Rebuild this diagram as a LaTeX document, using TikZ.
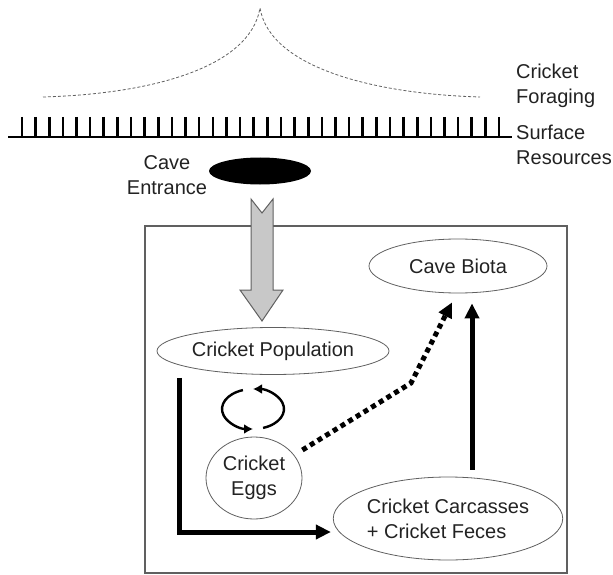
\documentclass[tikz,border=0pt]{standalone}
\usepackage{fontspec}
\setmainfont{Liberation Sans}
\usepackage{tikz}
\usetikzlibrary{arrows.meta, shapes.geometric}

\definecolor{inkGray}{RGB}{34,34,34}
\definecolor{lineGray}{RGB}{96,96,96}
\definecolor{fillGray}{RGB}{200,200,200}

\begin{document}
\begin{tikzpicture}[x=1pt,y=-1pt,
        every node/.style={text=inkGray,font=\fontsize{20}{25}\selectfont},
        oval/.style={ellipse,draw=lineGray,line width=0.8pt,inner sep=0pt},
        heavy/.style={line width=5pt,-{Triangle[length=15pt,width=14pt]}},
        dotty/.style={line width=5pt,dash pattern=on 5pt off 4pt,-{Triangle[length=15pt,width=14pt]}},
        cycle/.style={line width=2.4pt,-{Latex[length=9pt,width=10pt]}}]

        \useasboundingbox (0,0) rectangle (613,575);

        % surface, foraging curve
        \draw[lineGray,line width=0.8pt,dash pattern=on 3pt off 2pt] (43,97) .. controls (150,94) and (250,68) .. (260,8)
                .. controls (270,68) and (375,94) .. (480,97);
        \draw[line width=2.6pt] (8,137) -- (512,137);
        \foreach \i in {0,...,35}
          \draw[line width=2.6pt] (22+\i*13.63,117) -- (22+\i*13.63,137);

        \node [anchor=west,align=left,inner sep=0pt] at (516,85.5) (forageLbl) {Cricket\\Foraging};
        \node [anchor=west,align=left,inner sep=0pt] at (516,145) (surfaceLbl) {Surface\\Resources};

        \node [ellipse,fill=black,minimum width=102pt,minimum height=27pt] at (260,171) (caveEntrance) {};
        \node [align=center] at (167,175) (entranceLbl) {Cave\\Entrance};

        % the cave
        \draw[lineGray,line width=1.3pt] (145,226) rectangle (567,573);
        \draw[fill=fillGray,draw=lineGray,line width=1pt] (251,199) -- (262,213) -- (273,199) -- (273,290) -- (283,290)
                -- (262,321) -- (240,290) -- (251,290) -- cycle;

        \node [oval,minimum width=232pt,minimum height=47pt] at (273,351) (crickPop) {Cricket Population};
        \node [oval,minimum width=178pt,minimum height=54pt] at (458,266) (caveBiota) {Cave Biota};
        \node [oval,minimum width=96pt,minimum height=82pt,align=center] at (254,478) (crickEggs) {Cricket\\Eggs};
        \node [oval,minimum width=212pt,minimum height=83pt,align=left] at (448,518.5) (carcFeces) {Cricket Carcasses\\+ Cricket Feces};

        \coordinate (eggLoop) at (253,409);
        \coordinate (dotBend) at (411,383);

        \draw[cycle] (eggLoop) ++(71:31 and 20) arc[start angle=71,end angle=-90,x radius=31,y radius=20];
        \draw[cycle] (eggLoop) ++(251:31 and 20) arc[start angle=251,end angle=90,x radius=31,y radius=20];

        \draw[heavy,miter limit=10] ([xshift=-94pt,yshift=-3pt]crickPop.south) |- ([xshift=-2pt,yshift=-13.5pt]carcFeces.west);
        \draw[heavy,shorten <=7pt,shorten >=10pt] ([xshift=24pt]carcFeces.north) -- ([xshift=24pt]carcFeces.north |- caveBiota.south);
        \draw[dotty] ([yshift=28pt]crickEggs.east) -- (dotBend) -- ([xshift=-6pt,yshift=-9pt]caveBiota.south);

      \end{tikzpicture}
\end{document}
